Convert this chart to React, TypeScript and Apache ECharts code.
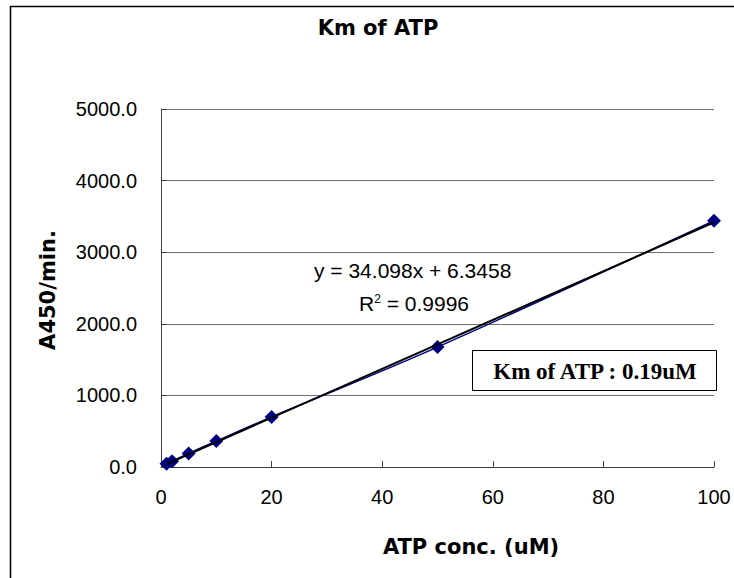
import React, { useEffect, useRef } from "react";
import * as echarts from "echarts";

const chartTitle = "Km of ATP";
const xAxisName = "ATP conc. (uM)";
const yAxisName = "A450/min.";
const xValues = [1, 2, 5, 10, 20, 50, 100];
const yValues = [45, 80, 190, 362, 700, 1675, 3440];
const trendSlope = 34.098;
const trendIntercept = 6.3458;
const equationText = "y = 34.098x + 6.3458";
const r2Value = "0.9996";
const kmText = "Km of ATP : 0.19uM";

const gothic = "'DejaVu Sans', 'Noto Sans CJK JP', sans-serif";
const arial = "'Liberation Sans', Arial, sans-serif";
const times = "'Liberation Serif', 'Times New Roman', serif";

export default function App() {
  const ref = useRef<HTMLDivElement>(null);
  useEffect(() => {
    document.body.style.margin = "0";
    if (!ref.current) return;
    const chart = echarts.init(ref.current, undefined, { renderer: "svg" });
    const points = xValues.map((x, i) => [x, yValues[i]]);
    const xStart = xValues[0];
    const xEnd = xValues[xValues.length - 1];
    const trend = [
      [xStart, trendSlope * xStart + trendIntercept],
      [xEnd, trendSlope * xEnd + trendIntercept],
    ];
    chart.setOption({
      animation: false,
      backgroundColor: "#ffffff",
      grid: { left: 161, right: 20, top: 109, bottom: 111, containLabel: false },
      xAxis: {
        type: "value",
        min: 0,
        max: 100,
        interval: 20,
        axisLine: { show: true, lineStyle: { color: "#404040", width: 1 } },
        axisTick: { show: true, inside: true, length: 6, lineStyle: { color: "#404040" } },
        axisLabel: { color: "#000", fontFamily: arial, fontSize: 20, margin: 20 },
        splitLine: { show: false },
      },
      yAxis: {
        type: "value",
        min: 0,
        max: 5000,
        interval: 1000,
        axisLine: { show: true, lineStyle: { color: "#404040", width: 1 } },
        axisTick: { show: true, inside: true, length: 6, lineStyle: { color: "#404040" } },
        axisLabel: {
          color: "#000",
          fontFamily: arial,
          fontSize: 20,
          margin: 24,
          formatter: (v: number) => v.toFixed(1),
        },
        splitLine: { show: true, lineStyle: { color: "#707070", width: 1 } },
      },
      series: [
        {
          type: "line",
          data: points,
          smooth: 0.35,
          symbol: "diamond",
          symbolSize: 14,
          itemStyle: { color: "#000080" },
          lineStyle: { color: "#000080", width: 1.5 },
          z: 2,
        },
        {
          type: "line",
          data: trend,
          symbol: "none",
          lineStyle: { color: "#000000", width: 2 },
          z: 3,
          silent: true,
        },
      ],
      graphic: [
        {
          type: "polyline",
          shape: { points: [[10.5, 578], [10.5, 6.5], [734, 6.5]] },
          style: { stroke: "#000", lineWidth: 1.5, fill: null },
          silent: true,
        },
        {
          type: "text",
          x: 378,
          y: 28,
          style: {
            text: chartTitle,
            fill: "#000",
            font: `bold 21px ${gothic}`,
            textAlign: "center",
            textVerticalAlign: "middle",
            align: "center",
            verticalAlign: "middle",
          },
        },
        {
          type: "text",
          x: 48,
          y: 290,
          rotation: Math.PI / 2,
          style: {
            text: yAxisName,
            fill: "#000",
            font: `bold 21px ${gothic}`,
            textAlign: "center",
            textVerticalAlign: "middle",
            align: "center",
            verticalAlign: "middle",
          },
        },
        {
          type: "text",
          x: 471,
          y: 547,
          style: {
            text: xAxisName,
            fill: "#000",
            font: `bold 21px ${gothic}`,
            textAlign: "center",
            textVerticalAlign: "middle",
            align: "center",
            verticalAlign: "middle",
          },
        },
        {
          type: "text",
          x: 314,
          y: 270,
          style: {
            text: equationText,
            fill: "#000",
            font: `21px ${arial}`,
            textAlign: "left",
            textVerticalAlign: "middle",
            align: "left",
            verticalAlign: "middle",
          },
        },
        {
          type: "text",
          x: 359,
          y: 303,
          style: {
            text: `R{sup|2} = ${r2Value}`,
            fill: "#000",
            font: `21px ${arial}`,
            fontSize: 21,
            fontFamily: arial,
            textAlign: "left",
            textVerticalAlign: "middle",
            align: "left",
            verticalAlign: "middle",
            rich: {
              sup: { fontSize: 12, fontFamily: arial, fill: "#000", verticalAlign: "top", padding: [0, 0, 8, 0] },
            },
          },
        },
        {
          type: "rect",
          shape: { x: 472.5, y: 350.5, width: 244, height: 40 },
          style: { fill: "#fff", stroke: "#000", lineWidth: 1 },
          z: 10,
        },
        {
          type: "text",
          x: 595,
          y: 371,
          z: 11,
          style: {
            text: kmText,
            fill: "#000",
            font: `bold 23px ${times}`,
            textAlign: "center",
            textVerticalAlign: "middle",
            align: "center",
            verticalAlign: "middle",
          },
        },
      ],
    });
    return () => chart.dispose();
  }, []);
  return <div ref={ref} style={{ width: 734, height: 578 }} />;
}
